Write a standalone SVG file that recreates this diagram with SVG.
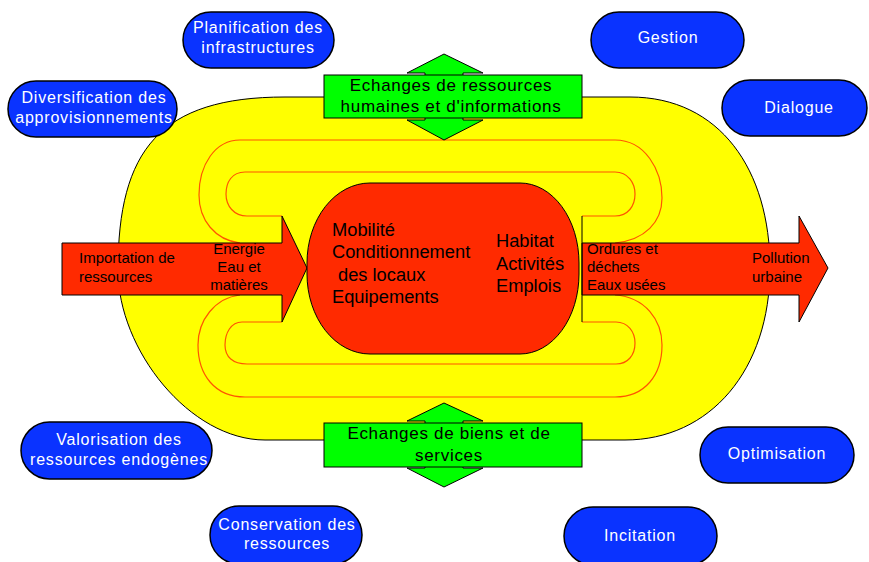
<svg xmlns="http://www.w3.org/2000/svg" width="869" height="562" viewBox="0 0 869 562">
<defs>
<style>
.bg{fill:#ffffff}
.yellow{fill:#ffff00;stroke:#000;stroke-width:1}
.loop{fill:none;stroke:#ff5500;stroke-width:1.2}
.redshape{fill:#ff2a00;stroke:#000;stroke-width:1}
.green{fill:#00ff00;stroke:#000;stroke-width:1}
.node rect{fill:#0a33ff;stroke:#000;stroke-width:1.5}
.node text{fill:#ffffff;font-family:"Liberation Sans",Arial,sans-serif;font-size:16px;letter-spacing:0.8px;text-anchor:middle}
.lbl{fill:#000;font-family:"Liberation Sans",Arial,sans-serif}
.c17{font-size:18.3px}
.c15{font-size:15px}
.g17{font-size:17px;letter-spacing:0.7px;text-anchor:middle}
.mid{text-anchor:middle}
</style>
</defs>
<rect class="bg" x="0" y="0" width="869" height="562"/>

<g id="territoire">
<path class="yellow" d="M285,97 H630 C720,97 770,170 770,268 C770,370 710,440 625,440 H265 C190,440 118,350 118,270 C118,150 160,97 285,97 Z"/>
<path class="loop" d="M615,140 H240 C215,140 199,165 199,195 C199,220 215,240 240,243"/>
<path class="loop" d="M240,295 C215,298 198,320 198,345 C198,375 215,397 245,397 H615"/>
<path class="loop" d="M615,140 C645,140 662,170 662,198 C662,222 645,240 615,243"/>
<path class="loop" d="M615,295 C645,297 662,320 662,345 C662,375 645,397 615,397"/>
<path class="loop" d="M615,172 H245 C232,172 226,182 226,194 C226,206 234,216 247,216 H282"/>
<path class="loop" d="M282,322 H242 C231,322 225,333 225,345 C225,357 233,364 247,364 H615"/>
<path class="loop" d="M615,172 C628,172 635,183 635,194 C635,206 628,216 615,216 H582"/>
<path class="loop" d="M582,322 H616 C628,322 635,332 635,343 C635,355 628,364 616,364 H615"/>
</g>

<g id="connectors">
<polygon id="arrow-in" class="redshape" points="62,243 282,243 282,216 307,268 282,322 282,295 62,295"/>
<polygon id="arrow-out" class="redshape" points="582,243 799,243 799,216 828,268 799,322 799,295 582,295"/>
<line x1="582" y1="216" x2="582" y2="322" stroke="#000" stroke-width="1"/>
<polygon id="echange-haut-fleche" class="green" points="444,54 483,73 463,73 463,120 483,120 444,140 407,120 425,120 425,73 407,73"/>
<polygon id="echange-bas-fleche" class="green" points="444,403 483,421 463,421 463,468 483,468 444,487 407,468 425,468 425,421 407,421"/>
</g>

<g id="ville">
<path class="redshape" d="M370,183 H520 A59,80 0 0 1 579,263 V274 A59,80 0 0 1 520,354 H370 A63,80 0 0 1 307,274 V263 A63,80 0 0 1 370,183 Z"/>
<text class="lbl c17" x="332" y="236">Mobilité</text>
<text class="lbl c17" x="332" y="258">Conditionnement</text>
<text class="lbl c17" x="338" y="281">des locaux</text>
<text class="lbl c17" x="332" y="303">Equipements</text>
<text class="lbl c17" x="496" y="247">Habitat</text>
<text class="lbl c17" x="496" y="270">Activités</text>
<text class="lbl c17" x="496" y="292">Emplois</text>
</g>

<g id="entrees">
<text class="lbl c15" x="79" y="263">Importation de</text>
<text class="lbl c15" x="79" y="282">ressources</text>
<text class="lbl c15 mid" x="239" y="254">Energie</text>
<text class="lbl c15 mid" x="239" y="272">Eau et</text>
<text class="lbl c15 mid" x="239" y="290">matières</text>
</g>

<g id="sorties">
<text class="lbl c15" x="587" y="254">Ordures et</text>
<text class="lbl c15" x="587" y="272">déchets</text>
<text class="lbl c15" x="587" y="290">Eaux usées</text>
<text class="lbl c15" x="752" y="263">Pollution</text>
<text class="lbl c15" x="752" y="282">urbaine</text>
</g>

<g id="echange-haut">
<rect class="green" x="324" y="75" width="258" height="43"/>
<text class="lbl g17" x="451" y="91">Echanges de ressources</text>
<text class="lbl g17" x="451" y="112">humaines et d'informations</text>
</g>

<g id="echange-bas">
<rect class="green" x="324" y="423" width="258" height="44"/>
<text class="lbl g17" x="449" y="439">Echanges de biens et de</text>
<text class="lbl g17" x="449" y="461">services</text>
</g>

<g id="planification" class="node">
<rect x="183" y="12" width="151" height="56" rx="28"/>
<text x="258" y="33">Planification des</text>
<text x="258" y="53">infrastructures</text>
</g>
<g id="diversification" class="node">
<rect x="8" y="81" width="169" height="56" rx="28"/>
<text x="94" y="103">Diversification des</text>
<text x="94" y="123">approvisionnements</text>
</g>
<g id="gestion" class="node">
<rect x="591" y="12" width="153" height="56" rx="28"/>
<text x="668" y="43">Gestion</text>
</g>
<g id="dialogue" class="node">
<rect x="722" y="80" width="145" height="56" rx="28"/>
<text x="799" y="113">Dialogue</text>
</g>
<g id="valorisation" class="node">
<rect x="21" y="422" width="191" height="57" rx="28.5"/>
<text x="119" y="445">Valorisation des</text>
<text x="119" y="465">ressources endogènes</text>
</g>
<g id="conservation" class="node">
<rect x="210" y="506" width="152" height="58" rx="29"/>
<text x="287" y="530">Conservation des</text>
<text x="287" y="549">ressources</text>
</g>
<g id="optimisation" class="node">
<rect x="700" y="427" width="154" height="56" rx="28"/>
<text x="777" y="459">Optimisation</text>
</g>
<g id="incitation" class="node">
<rect x="564" y="507" width="153" height="58" rx="29"/>
<text x="640" y="541">Incitation</text>
</g>
</svg>
